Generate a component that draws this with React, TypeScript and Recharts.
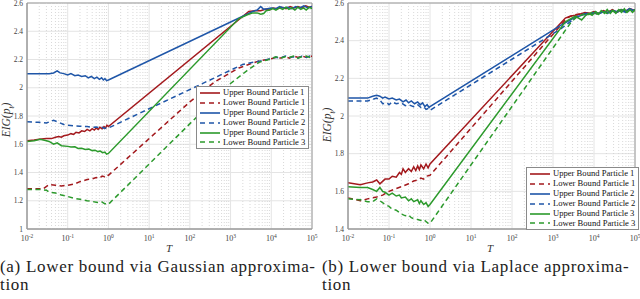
import { LineChart, Line, XAxis, YAxis, CartesianGrid, ReferenceLine, ReferenceArea } from 'recharts';

type Pt = [number, number];

// (a) Gaussian approximation
const gaussUpper1: Pt[] = [
  [0.01, 1.625], [0.015, 1.63], [0.02, 1.635], [0.03, 1.64], [0.04, 1.64], [0.05, 1.65], [0.06, 1.655],
  [0.07, 1.65], [0.08, 1.66], [0.1, 1.665], [0.12, 1.675], [0.14, 1.67], [0.16, 1.685], [0.19, 1.68],
  [0.22, 1.695], [0.26, 1.69], [0.3, 1.705], [0.35, 1.695], [0.4, 1.71], [0.45, 1.7], [0.5, 1.715],
  [0.56, 1.705], [0.62, 1.72], [0.7, 1.71], [0.78, 1.725], [0.85, 1.715], [0.92, 1.735], [1.0, 1.725],
  [2800, 2.54], [4000, 2.545], [5500, 2.545], [7000, 2.555], [9000, 2.55], [11000, 2.565], [14000, 2.56],
  [18000, 2.57], [23000, 2.56], [29000, 2.575], [36000, 2.565], [45000, 2.575], [56000, 2.565],
  [70000, 2.58], [85000, 2.57], [100000, 2.575],
];
const gaussLower1: Pt[] = [
  [0.01, 1.285], [0.025, 1.285], [0.035, 1.315], [0.05, 1.31], [0.07, 1.305], [0.1, 1.31], [0.15, 1.32],
  [0.2, 1.335], [0.3, 1.35], [0.4, 1.355], [0.5, 1.365], [0.6, 1.36], [0.7, 1.375], [0.8, 1.37],
  [0.9, 1.385], [1.0, 1.38],
  [100, 1.9], [400, 2.04], [1600, 2.14], [5000, 2.19], [10000, 2.205], [13000, 2.215], [17000, 2.21],
  [22000, 2.22], [28000, 2.21], [35000, 2.225], [45000, 2.215], [57000, 2.225], [72000, 2.215],
  [88000, 2.23], [100000, 2.22],
];
const gaussUpper2: Pt[] = [
  [0.01, 2.1], [0.02, 2.1], [0.035, 2.1], [0.045, 2.105], [0.055, 2.12], [0.065, 2.105], [0.08, 2.1],
  [0.1, 2.09], [0.12, 2.1], [0.15, 2.085], [0.18, 2.09], [0.22, 2.08], [0.27, 2.085], [0.32, 2.07],
  [0.38, 2.08], [0.45, 2.065], [0.52, 2.075], [0.6, 2.06], [0.68, 2.07], [0.75, 2.055], [0.82, 2.065],
  [0.9, 2.05], [1.0, 2.055],
  [3500, 2.54], [4500, 2.55], [5500, 2.575], [6500, 2.555], [8000, 2.56], [10000, 2.565], [13000, 2.56],
  [16000, 2.575], [20000, 2.565], [25000, 2.57], [32000, 2.56], [40000, 2.575], [50000, 2.565],
  [63000, 2.58], [80000, 2.565], [100000, 2.575],
];
const gaussLower2: Pt[] = [
  [0.01, 1.76], [0.02, 1.755], [0.03, 1.75], [0.045, 1.77], [0.06, 1.755], [0.08, 1.74], [0.1, 1.735],
  [0.15, 1.73], [0.2, 1.728], [0.3, 1.725], [0.4, 1.72], [0.5, 1.722], [0.6, 1.716], [0.7, 1.72],
  [0.8, 1.712], [0.9, 1.718], [1.0, 1.715],
  [2000, 2.165], [8000, 2.2], [10000, 2.21], [13000, 2.215], [17000, 2.21], [22000, 2.225], [28000, 2.215],
  [35000, 2.22], [45000, 2.21], [57000, 2.225], [72000, 2.215], [88000, 2.225], [100000, 2.22],
];
const gaussUpper3: Pt[] = [
  [0.01, 1.62], [0.015, 1.625], [0.021, 1.635], [0.03, 1.625], [0.035, 1.62], [0.045, 1.6], [0.055, 1.61],
  [0.07, 1.59], [0.1, 1.585], [0.12, 1.58], [0.15, 1.582], [0.18, 1.57], [0.22, 1.572], [0.27, 1.563],
  [0.33, 1.566], [0.4, 1.555], [0.47, 1.558], [0.55, 1.548], [0.63, 1.552], [0.72, 1.54], [0.82, 1.545],
  [0.9, 1.53], [1.0, 1.535],
  [1600, 2.49], [2500, 2.515], [3500, 2.53], [4500, 2.53], [5500, 2.52], [6500, 2.525], [7500, 2.545],
  [9000, 2.55], [11000, 2.56], [13000, 2.55], [16000, 2.565], [19000, 2.555], [23000, 2.57],
  [27000, 2.555], [32000, 2.565], [38000, 2.55], [45000, 2.57], [53000, 2.555], [62000, 2.565],
  [72000, 2.55], [85000, 2.57], [100000, 2.56],
];
const gaussLower3: Pt[] = [
  [0.01, 1.28], [0.02, 1.28], [0.03, 1.275], [0.035, 1.26], [0.05, 1.255], [0.07, 1.24], [0.1, 1.23],
  [0.15, 1.215], [0.2, 1.21], [0.3, 1.2], [0.4, 1.195], [0.5, 1.19], [0.6, 1.185], [0.7, 1.19],
  [0.8, 1.18], [0.9, 1.175], [1.0, 1.175],
  [1000, 2.03], [2500, 2.12], [5000, 2.18], [10000, 2.205], [13000, 2.22], [17000, 2.21], [22000, 2.22],
  [28000, 2.215], [35000, 2.225], [45000, 2.21], [57000, 2.22], [72000, 2.225], [88000, 2.215],
  [100000, 2.225],
];

// (b) Laplace approximation
const laplaceUpper1: Pt[] = [
  [0.01, 1.645], [0.02, 1.635], [0.03, 1.645], [0.04, 1.65], [0.05, 1.66], [0.06, 1.64], [0.08, 1.665],
  [0.1, 1.665], [0.12, 1.68], [0.15, 1.675], [0.18, 1.7], [0.2, 1.69], [0.22, 1.72], [0.25, 1.7],
  [0.3, 1.72], [0.35, 1.705], [0.4, 1.73], [0.45, 1.71], [0.5, 1.735], [0.55, 1.715], [0.6, 1.74],
  [0.7, 1.72], [0.8, 1.745], [0.9, 1.725], [1.0, 1.745],
  [2000, 2.52], [2600, 2.53], [3500, 2.535], [4500, 2.54], [6000, 2.55], [8000, 2.545], [10000, 2.555],
  [13000, 2.545], [17000, 2.56], [22000, 2.55], [28000, 2.565], [36000, 2.55], [46000, 2.565],
  [58000, 2.555], [74000, 2.57], [100000, 2.56],
];
const laplaceLower1: Pt[] = [
  [0.01, 1.565], [0.02, 1.55], [0.03, 1.56], [0.05, 1.57], [0.07, 1.58], [0.1, 1.6], [0.15, 1.615],
  [0.2, 1.625], [0.3, 1.64], [0.4, 1.655], [0.5, 1.66], [0.6, 1.67], [0.7, 1.665], [0.8, 1.68],
  [1.0, 1.685],
  [2200, 2.52], [3000, 2.535], [4000, 2.54], [5500, 2.545], [7000, 2.54], [9000, 2.55], [12000, 2.545],
  [16000, 2.555], [21000, 2.55], [27000, 2.56], [35000, 2.55], [45000, 2.565], [60000, 2.555],
  [80000, 2.565], [100000, 2.56],
];
const laplaceUpper2: Pt[] = [
  [0.01, 2.095], [0.02, 2.095], [0.03, 2.095], [0.04, 2.105], [0.05, 2.11], [0.06, 2.105], [0.07, 2.095],
  [0.08, 2.1], [0.1, 2.09], [0.12, 2.095], [0.15, 2.085], [0.18, 2.09], [0.22, 2.075], [0.26, 2.085],
  [0.3, 2.07], [0.35, 2.08], [0.42, 2.065], [0.5, 2.075], [0.58, 2.06], [0.66, 2.07], [0.75, 2.05],
  [0.85, 2.06], [0.95, 2.045], [1.0, 2.05],
  [1500, 2.48], [3200, 2.52], [5000, 2.535], [6500, 2.545], [8000, 2.54], [10000, 2.55], [13000, 2.545],
  [17000, 2.555], [22000, 2.55], [28000, 2.56], [36000, 2.555], [46000, 2.565], [58000, 2.555],
  [74000, 2.57], [90000, 2.56], [100000, 2.565],
];
const laplaceLower2: Pt[] = [
  [0.01, 2.08], [0.03, 2.08], [0.05, 2.095], [0.06, 2.085], [0.07, 2.065], [0.09, 2.07], [0.1, 2.06],
  [0.12, 2.075], [0.15, 2.065], [0.2, 2.07], [0.25, 2.055], [0.3, 2.06], [0.4, 2.05], [0.5, 2.06],
  [0.6, 2.045], [0.7, 2.05], [0.8, 2.035], [0.9, 2.04], [1.0, 2.03],
  [1600, 2.465], [4000, 2.53], [5500, 2.54], [7000, 2.535], [9000, 2.545], [12000, 2.54], [16000, 2.55],
  [21000, 2.545], [27000, 2.555], [35000, 2.55], [45000, 2.56], [60000, 2.55], [80000, 2.565],
  [100000, 2.555],
];
const laplaceUpper3: Pt[] = [
  [0.01, 1.625], [0.02, 1.62], [0.03, 1.62], [0.04, 1.61], [0.05, 1.6], [0.06, 1.62], [0.07, 1.6],
  [0.08, 1.595], [0.1, 1.58], [0.12, 1.59], [0.15, 1.575], [0.18, 1.58], [0.2, 1.565], [0.25, 1.57],
  [0.3, 1.55], [0.35, 1.56], [0.4, 1.545], [0.5, 1.555], [0.55, 1.535], [0.6, 1.55], [0.7, 1.53],
  [0.8, 1.54], [0.9, 1.52], [1.0, 1.53],
  [2000, 2.5], [3500, 2.53], [5000, 2.51], [6300, 2.535], [7500, 2.545], [9000, 2.535], [11000, 2.555],
  [13000, 2.54], [15000, 2.56], [18000, 2.545], [21000, 2.565], [25000, 2.545], [29000, 2.56],
  [34000, 2.545], [40000, 2.565], [47000, 2.55], [55000, 2.57], [64000, 2.55], [75000, 2.565],
  [87000, 2.55], [100000, 2.565],
];
const laplaceLower3: Pt[] = [
  [0.01, 1.56], [0.02, 1.555], [0.03, 1.545], [0.04, 1.545], [0.05, 1.56], [0.06, 1.55], [0.08, 1.53],
  [0.1, 1.52], [0.12, 1.505], [0.15, 1.5], [0.2, 1.48], [0.25, 1.47], [0.3, 1.475], [0.35, 1.46],
  [0.4, 1.455], [0.5, 1.45], [0.6, 1.445], [0.7, 1.45], [0.8, 1.44], [0.9, 1.43], [1.0, 1.43],
  [2800, 2.5], [4000, 2.53], [5500, 2.54], [7000, 2.535], [9000, 2.55], [12000, 2.54], [16000, 2.555],
  [21000, 2.545], [27000, 2.56], [35000, 2.55], [45000, 2.565], [60000, 2.55], [80000, 2.565],
  [100000, 2.56],
];

const xTicks = [0.01, 0.1, 1, 10, 100, 1000, 10000, 100000];
const gaussYTicks = [1, 1.2, 1.4, 1.6, 1.8, 2, 2.2, 2.4, 2.6];
const laplaceYTicks = [1.4, 1.6, 1.8, 2, 2.2, 2.4, 2.6];
const seriesNames = [
  'Upper Bound Particle 1', 'Lower Bound Particle 1',
  'Upper Bound Particle 2', 'Lower Bound Particle 2',
  'Upper Bound Particle 3', 'Lower Bound Particle 3',
];

const RED = '#a3191d';
const BLUE = '#1f56a8';
const GREEN = '#2c9a2c';
const seriesColors = [RED, RED, BLUE, BLUE, GREEN, GREEN];
const DASH = '5 3.5';

// minor grid lines 2..9 x 10^k
const minorTicks: number[] = [];
for (let e = -2; e < 5; e++) {
  for (let m = 2; m <= 9; m++) minorTicks.push(m * Math.pow(10, e));
}

const SERIF = '"Liberation Serif", "DejaVu Serif", serif';

const XTick = ({ x, y, payload }: any) => {
  const exp = Math.round(Math.log10(payload.value));
  return (
    <text x={x} y={y + 4} textAnchor="middle" fontSize={8} fill="#444" fontFamily={SERIF}>
      10<tspan dy={-3.5} fontSize={5.5}>{exp}</tspan>
    </text>
  );
};

const LegendBox = ({ left, top }: { left: number; top: number }) => (
  <div style={{ position: 'absolute', left, top, background: '#fff', border: '1px solid #8a8a8a', padding: '1px 3px 1px 2px', fontFamily: SERIF, fontSize: 8.6, color: '#111', lineHeight: '9.9px' }}>
    {seriesNames.map((name, i) => (
      <div key={name} style={{ display: 'flex', alignItems: 'center', whiteSpace: 'nowrap' }}>
        <svg width={22} height={6} style={{ marginRight: 2 }}>
          <line x1={1} y1={3} x2={21} y2={3} stroke={seriesColors[i]} strokeWidth={1.6}
            strokeDasharray={i % 2 ? '5 4' : undefined} />
        </svg>
        {name}
      </div>
    ))}
  </div>
);

interface PanelProps {
  series: Pt[][];
  yTicks: number[];
  yDomain: [number, number];
  marginRight: number;
  yAxisWidth: number;
}

const Panel = ({ series, yTicks, yDomain, marginRight, yAxisWidth }: PanelProps) => (
  <LineChart width={320} height={255} margin={{ top: 3, right: marginRight, left: 0, bottom: 0 }}>
    <CartesianGrid stroke="#e4e4e4" strokeWidth={1} />
    {minorTicks.map(t => (
      <ReferenceLine key={t} x={t} stroke="#cfcfcf" strokeDasharray="1 2" strokeWidth={0.8} />
    ))}
    <XAxis dataKey="t" type="number" scale="log" domain={[0.01, 100000]} ticks={xTicks} interval={0}
      allowDataOverflow tick={<XTick />} tickLine={false} axisLine={{ stroke: '#9a9a9a' }} height={26} />
    <YAxis type="number" domain={yDomain} ticks={yTicks} interval={0} width={yAxisWidth} tickLine={false}
      tickSize={0} tickMargin={4} axisLine={{ stroke: '#9a9a9a' }}
      tick={{ fontSize: 7.5, fill: '#444', fontFamily: SERIF }} />
    <ReferenceArea x1={0.01} x2={100000} y1={yDomain[0]} y2={yDomain[1]} fill="none" stroke="#9a9a9a" strokeWidth={1} />
    {series.map((pts, i) => (
      <Line key={i} data={pts.map(([t, v]) => ({ t, v }))} dataKey="v" name={seriesNames[i]}
        stroke={seriesColors[i]} strokeWidth={1.5} strokeDasharray={i % 2 ? DASH : undefined}
        dot={false} isAnimationActive={false} />
    ))}
  </LineChart>
);

const YLabel = ({ left, top }: { left: number; top: number }) => (
  <div style={{ position: 'absolute', left, top, transform: 'translate(-50%, -50%) rotate(-90deg)', fontFamily: SERIF, fontStyle: 'italic', fontSize: 11.5, color: '#333', whiteSpace: 'nowrap' }}>
    EIG(p<sub style={{ fontSize: 7.5 }}>t</sub>)
  </div>
);

const TLabel = ({ left }: { left: number }) => (
  <div style={{ position: 'absolute', left, top: 242, fontFamily: SERIF, fontStyle: 'italic', fontSize: 11, color: '#333' }}>T</div>
);

const Caption = ({ left, lines }: { left: number; lines: string[] }) => (
  <div style={{ position: 'absolute', left, top: 258, width: 330, fontFamily: SERIF, fontSize: 17, lineHeight: '18px', color: '#222', letterSpacing: 0.7, whiteSpace: 'nowrap' }}>
    {lines.map(l => <div key={l}>{l}</div>)}
  </div>
);

export default function App() {
  return (
    <div style={{ position: 'absolute', left: 0, top: 0, width: 640, height: 299, background: '#fff', overflow: 'hidden' }}>
      <div style={{ position: 'absolute', left: 0, top: 0 }}>
        <Panel series={[gaussUpper1, gaussLower1, gaussUpper2, gaussLower2, gaussUpper3, gaussLower3]}
          yTicks={gaussYTicks} yDomain={[1, 2.6]} marginRight={8} yAxisWidth={27} />
      </div>
      <div style={{ position: 'absolute', left: 320, top: 0 }}>
        <Panel series={[laplaceUpper1, laplaceLower1, laplaceUpper2, laplaceLower2, laplaceUpper3, laplaceLower3]}
          yTicks={laplaceYTicks} yDomain={[1.4, 2.6]} marginRight={5} yAxisWidth={28} />
      </div>
      <LegendBox left={196} top={86} />
      <LegendBox left={526} top={167} />
      <YLabel left={8} top={120} />
      <YLabel left={329} top={125} />
      <TLabel left={166} />
      <TLabel left={487} />
      <Caption left={0} lines={['(a) Lower bound via Gaussian approxima-', 'tion']} />
      <Caption left={322} lines={['(b) Lower bound via Laplace approxima-', 'tion']} />
    </div>
  );
}
